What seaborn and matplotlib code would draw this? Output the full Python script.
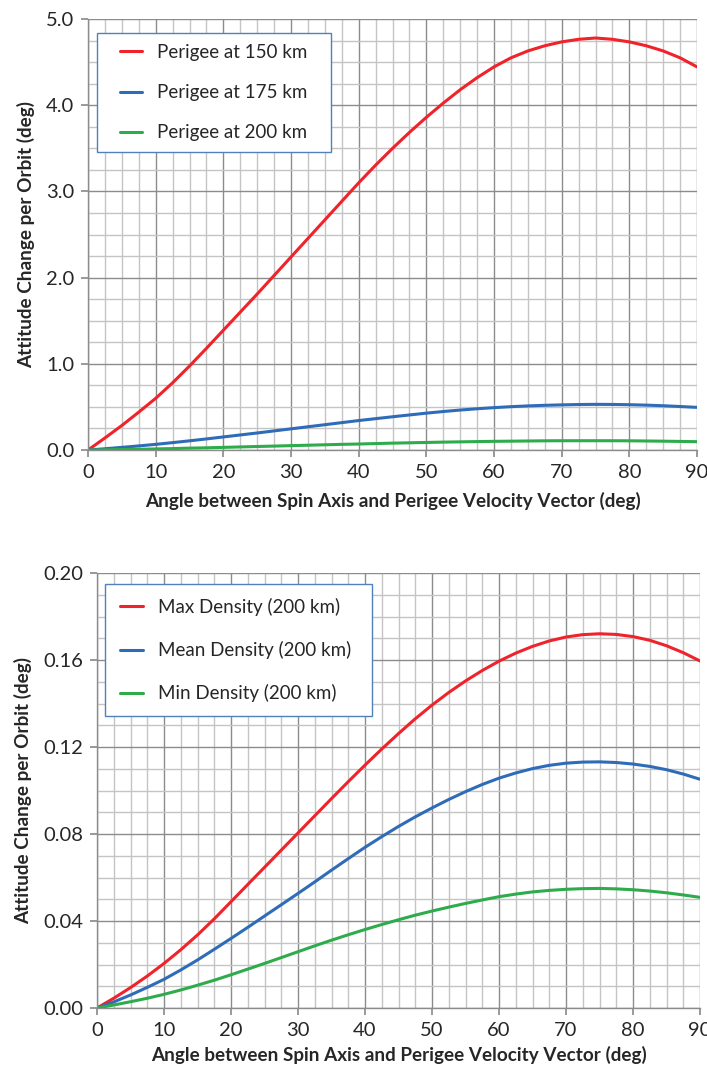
import numpy as np
import pandas as pd
import matplotlib
matplotlib.use("Agg")
import matplotlib.pyplot as plt
import seaborn as sns
from matplotlib.ticker import MultipleLocator, FormatStrFormatter
from matplotlib.lines import Line2D
from matplotlib.legend_handler import HandlerLine2D

angles = [i * 2.5 for i in range(37)]

top_labels = ["Perigee at 150 km", "Perigee at 175 km", "Perigee at 200 km"]
top_150 = [0, 0.14, 0.285, 0.44, 0.60, 0.78, 0.975, 1.18, 1.39, 1.60,
           1.81, 2.025, 2.24, 2.455, 2.67, 2.885, 3.10, 3.305, 3.50, 3.685,
           3.86, 4.025, 4.18, 4.32, 4.445, 4.55, 4.63, 4.69, 4.735, 4.765,
           4.78, 4.765, 4.735, 4.69, 4.63, 4.55, 4.445]
top_175 = [0, 0.015, 0.031, 0.048, 0.066, 0.086, 0.107, 0.129, 0.152, 0.175,
           0.198, 0.222, 0.246, 0.270, 0.294, 0.318, 0.342, 0.364, 0.386, 0.407,
           0.428, 0.447, 0.464, 0.479, 0.492, 0.503, 0.512, 0.519, 0.524, 0.528,
           0.530, 0.529, 0.526, 0.521, 0.514, 0.505, 0.495]
top_200 = [0, 0.003, 0.006, 0.009, 0.013, 0.017, 0.022, 0.026, 0.031, 0.036,
           0.041, 0.046, 0.051, 0.056, 0.061, 0.066, 0.070, 0.075, 0.080, 0.084,
           0.088, 0.092, 0.095, 0.098, 0.101, 0.103, 0.105, 0.107, 0.108, 0.108,
           0.108, 0.108, 0.107, 0.105, 0.103, 0.100, 0.097]

bot_labels = ["Max Density (200 km)", "Mean Density (200 km)", "Min Density (200 km)"]
bot_max = [0, 0.0045, 0.0094, 0.0147, 0.0205, 0.0268, 0.0336, 0.0410, 0.0489, 0.0568,
           0.0647, 0.0726, 0.0805, 0.0884, 0.0963, 0.1041, 0.1117, 0.1191, 0.1262, 0.1330,
           0.1393, 0.1451, 0.1504, 0.1552, 0.1595, 0.1632, 0.1663, 0.1688, 0.1706, 0.1717,
           0.1721, 0.1718, 0.1708, 0.1691, 0.1666, 0.1634, 0.1596]
bot_mean = [0, 0.0028, 0.0060, 0.0095, 0.0132, 0.0175, 0.0221, 0.0270, 0.0320, 0.0371,
            0.0423, 0.0475, 0.0527, 0.0580, 0.0634, 0.0687, 0.0739, 0.0788, 0.0835, 0.0879,
            0.0920, 0.0959, 0.0995, 0.1028, 0.1057, 0.1081, 0.1101, 0.1116, 0.1126, 0.1131,
            0.1132, 0.1129, 0.1122, 0.1111, 0.1096, 0.1076, 0.1052]
bot_min = [0, 0.0014, 0.0029, 0.0045, 0.0063, 0.0083, 0.0105, 0.0128, 0.0153, 0.0179,
           0.0205, 0.0232, 0.0259, 0.0286, 0.0312, 0.0337, 0.0361, 0.0384, 0.0406, 0.0427,
           0.0446, 0.0464, 0.0481, 0.0497, 0.0512, 0.0524, 0.0534, 0.0541, 0.0546, 0.0549,
           0.0550, 0.0548, 0.0544, 0.0538, 0.0530, 0.0520, 0.0509]

xlabel = "Angle between Spin Axis and Perigee Velocity Vector (deg)"
ylabel = "Attitude Change per Orbit (deg)"

colors = ["#f0222a", "#2f6cb8", "#2eab4b"]

sns.set_theme(style="white")
plt.rcParams["font.family"] = ["Lato", "DejaVu Sans"]

fig = plt.figure(figsize=(7.07, 10.70), dpi=100)
ax1 = fig.add_axes([0.1245, 0.5794, 0.8614, 0.4028])
ax2 = fig.add_axes([0.1372, 0.0579, 0.8529, 0.4065])


def make_df(series, labels):
    rows = []
    for vals, lab in zip(series, labels):
        for a, v in zip(angles, vals):
            rows.append({"angle": a, "value": v, "series": lab})
    return pd.DataFrame(rows)


def style_axis(ax, ymax, ymajor, yminor, yfmt, xlabelpad):
    ax.set_xlim(0, 90)
    ax.set_ylim(0, ymax)
    ax.xaxis.set_major_locator(MultipleLocator(10))
    ax.xaxis.set_minor_locator(MultipleLocator(2.5))
    ax.yaxis.set_major_locator(MultipleLocator(ymajor))
    ax.yaxis.set_minor_locator(MultipleLocator(yminor))
    ax.yaxis.set_major_formatter(FormatStrFormatter(yfmt))
    ax.grid(True, which="major", color="#8c8c8c", linewidth=1.0)
    ax.grid(True, which="minor", color="#c4c4c4", linewidth=1.0)
    ax.set_axisbelow(True)
    for s in ["top", "right"]:
        ax.spines[s].set_visible(False)
    for s in ["left", "bottom"]:
        ax.spines[s].set_color("#8c8c8c")
        ax.spines[s].set_linewidth(1.0)
    ax.tick_params(axis="both", which="major", labelsize=14.5, length=5,
                   color="#8c8c8c", direction="out", bottom=True, left=True, pad=5)
    ax.tick_params(axis="both", which="minor", length=0)
    ax.set_xlabel(xlabel, fontsize=13.6, fontweight="bold", labelpad=xlabelpad)
    ax.set_ylabel(ylabel, fontsize=13.6, fontweight="bold", labelpad=8)


df1 = make_df([top_150, top_175, top_200], top_labels)
sns.lineplot(data=df1, x="angle", y="value", hue="series", palette=colors,
             linewidth=2.2, ax=ax1, legend=True)
style_axis(ax1, 5.0, 1.0, 0.25, "%.1f", 8)

df2 = make_df([bot_max, bot_mean, bot_min], bot_labels)
sns.lineplot(data=df2, x="angle", y="value", hue="series", palette=colors,
             linewidth=2.2, ax=ax2, legend=True)
style_axis(ax2, 0.20, 0.04, 0.01, "%.2f", 5)

legend_specs = [
    (ax1, (0.0148, 0.9675, 0.384, 0.0), 1.24, 0.58, 0.64, 1.81),
    (ax2, (0.0133, 0.9747, 0.443, 0.0), 1.34, 0.74, 0.05, 1.28),
]
for ax, anchor, lsp, bp, xpad, hl in legend_specs:
    leg = ax.legend(loc="upper left", bbox_to_anchor=anchor, mode="expand",
                    fontsize=13.5, frameon=True, fancybox=False, handlelength=hl,
                    handletextpad=0.8, labelspacing=lsp, borderpad=bp,
                    borderaxespad=0.0, title=None,
                    handler_map={Line2D: HandlerLine2D(xpad=xpad)})
    leg.get_frame().set_edgecolor("#4f81bd")
    leg.get_frame().set_linewidth(1.0)
    leg.get_frame().set_facecolor("white")
    leg.get_frame().set_alpha(1.0)
    for line in leg.get_lines():
        line.set_linewidth(2.2)

fig.savefig("out.png", dpi=100, facecolor="white")
